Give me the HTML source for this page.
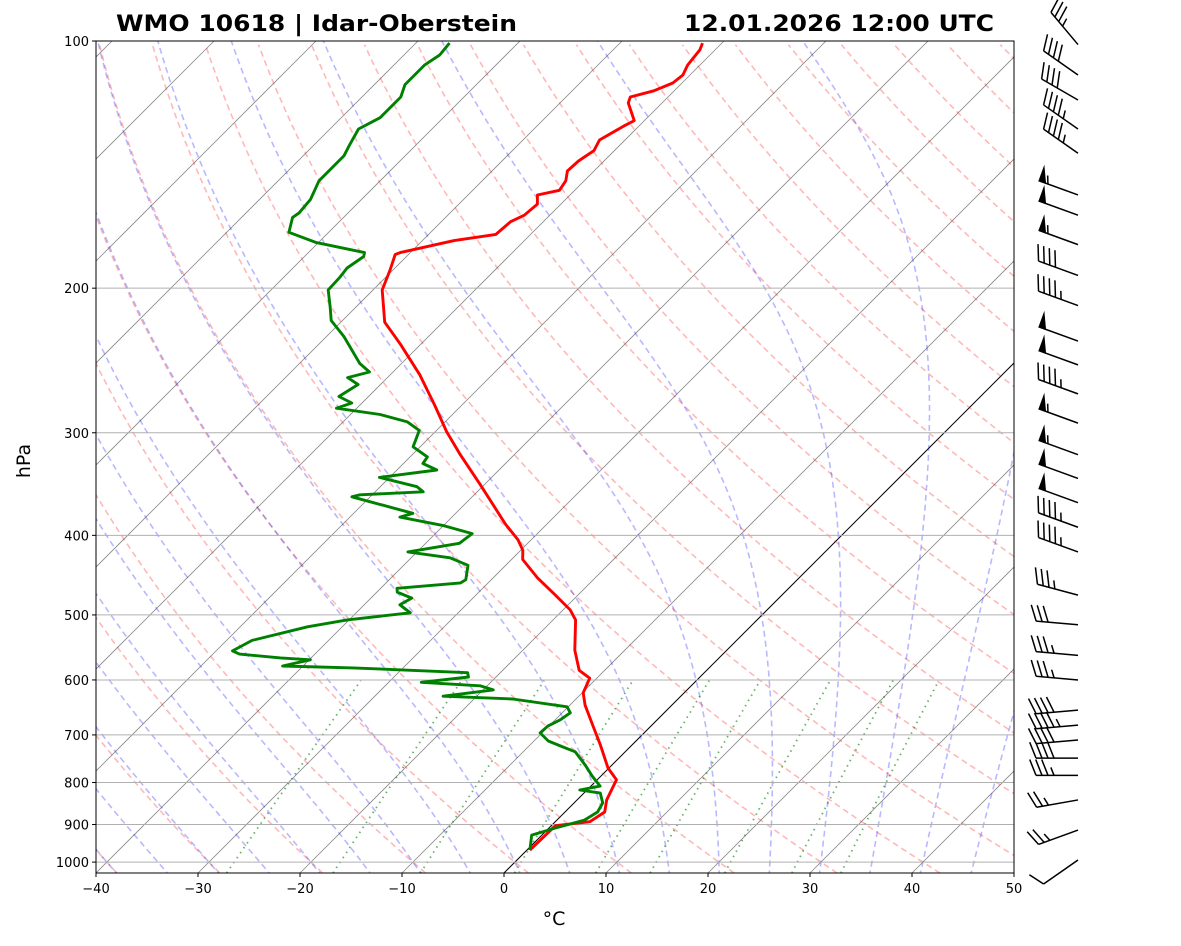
<!DOCTYPE html>
<html><head><meta charset="utf-8"><style>
html,body{margin:0;padding:0;background:#fff;}
svg text{font-family:"DejaVu Sans","Liberation Sans",sans-serif;}
</style></head><body>
<svg id="chart" width="1181" height="941" viewBox="0 0 1181 941" xmlns="http://www.w3.org/2000/svg">
<defs><clipPath id="clip"><rect x="96" y="41" width="918" height="832"/></clipPath></defs>
<rect width="1181" height="941" fill="#fff"/>
<text x="116" y="31" font-size="22.5" font-weight="bold" textLength="401" lengthAdjust="spacingAndGlyphs">WMO 10618 | Idar-Oberstein</text>
<text x="684" y="31" font-size="22.5" font-weight="bold" textLength="310" lengthAdjust="spacingAndGlyphs">12.01.2026 12:00 UTC</text>
<g id="bg" clip-path="url(#clip)"></g>
<g id="grid"></g>
<g id="prof" clip-path="url(#clip)"></g>
<rect x="96" y="41" width="918" height="832" fill="none" stroke="#000" stroke-width="1"/>
<g id="axes"></g>
<g id="barbs"></g>
<text x="0" y="0" font-size="19" text-anchor="middle" transform="translate(30,461) rotate(-90)">hPa</text>
<text x="554" y="925" font-size="19" text-anchor="middle">°C</text>
</svg>
<script>
// ---- data ----
const pLevels = [100,200,300,400,500,600,700,800,900,1000];
const tTicks = [-40,-30,-20,-10,0,10,20,30,40,50];
const tempP = [967,903,893,869,840,794,768,720,681,644,622,597,584,552,507,493,473,451,428,417,405,388,347,319,299,278,255,234,220,201,190,182,181,175,172,166,163,158,154,152,148,144,140,136,132,127,125,119,117,115,112.5,110,107,102.5,100.6];
const tempT = [0.3,0.4,3.4,3.9,2.9,1.9,-0.1,-3.1,-5.8,-8.5,-9.9,-10.7,-12.5,-14.9,-17.8,-19.3,-22.2,-25.6,-28.9,-29.8,-31.3,-34.0,-40.4,-45.3,-48.9,-52.6,-57.1,-62.0,-65.7,-69.1,-70.3,-71.3,-71.0,-66.9,-63.4,-63.2,-62.5,-62.3,-63.2,-61.5,-61.8,-62.6,-62.5,-62.0,-62.5,-61.5,-61.0,-63.3,-63.7,-62.0,-60.9,-60.7,-61.2,-61.5,-61.9];
const dewP = [967,927,909,889,869,847,824,817,808,785,762,734,724,712,696,683,671,658,647,633,628,617,610,604,595,588,580,577,567,564,558,553,537,517,507,497,486,477,469,464,457,453,435,426,419,409,398,389,380,376,359,357,354,349,340,333,327,321,312,298,291,285,280,276,271,262,257,253,247,229,219,211,201,194,189,183,181,176,171,164,162,156,148,138,134,128,124,117,113,107,104,100.6];
const dewT = [0.3,-1.0,0.6,2.7,3.2,2.8,1.6,-0.7,0.9,-0.9,-2.6,-4.9,-6.6,-8.6,-10.2,-10.1,-9.5,-9.2,-10.1,-16.2,-23.3,-19.0,-20.7,-26.8,-22.7,-23.2,-34.9,-42.0,-39.9,-43.0,-47.4,-48.4,-47.5,-43.4,-40.2,-34.7,-36.5,-36.0,-38.0,-38.4,-32.7,-32.5,-33.7,-36.2,-40.9,-36.7,-36.4,-40.1,-45.1,-44.2,-51.8,-51.2,-45.3,-46.4,-51.0,-46.1,-48.1,-48.3,-50.7,-51.7,-53.7,-57.1,-62.0,-61.0,-62.9,-62.2,-63.9,-62.3,-64.1,-68.3,-71.1,-72.5,-74.4,-74.5,-74.7,-74.2,-74.5,-80.2,-83.9,-85.0,-84.8,-85.0,-86.0,-86.0,-86.5,-87.2,-86.2,-86.2,-87.0,-87.0,-86.5,-86.7];
const windP = [101,110,118,128,137,154,163,177,193,210,232,248,269,292,319,341,365,391,419,473,514,560,600,653,681,710,747,784,840,914,994];
const windDir = [320,305,300,305,305,290,290,290,290,290,290,290,290,290,290,290,290,290,290,285,275,275,275,265,265,265,270,270,260,250,235];
const windSpd = [35,40,40,45,45,55,50,55,40,45,50,50,45,55,55,50,50,45,45,35,30,35,35,40,45,40,40,35,25,25,10];
const mixRatios = [0.0004,0.001,0.002,0.004,0.007,0.01,0.016,0.024,0.032];

// ---- axis functions ----
const NS='http://www.w3.org/2000/svg';
const TOP=41,BOT=873,LEFT=96,RIGHT=1014,PXLN=356.6,PXC=10.2,X0=504;
function yOf(p){return TOP+PXLN*Math.log(p/100);}
function xOf(t,p){return X0+PXC*t+(BOT-yOf(p));}
const PBOT=100*Math.exp((BOT-TOP)/PXLN);
function mk(tag,attrs,parent){const e=document.createElementNS(NS,tag);for(const k in attrs)e.setAttribute(k,attrs[k]);parent.appendChild(e);return e;}
function pathOf(pts){return pts.map((q,i)=>(i?'L':'M')+q[0].toFixed(1)+' '+q[1].toFixed(1)).join('');}
const bg=document.getElementById('bg'),grid=document.getElementById('grid'),prof=document.getElementById('prof'),axes=document.getElementById('axes'),barbs=document.getElementById('barbs');

for(let t=-130;t<=50;t+=10){
  const l=mk('line',{x1:xOf(t,PBOT),y1:BOT,x2:xOf(t,100),y2:TOP,stroke:t===0?'#000':'#888','stroke-width':t===0?1:0.8},bg);
  
  
}
for(let t0=-40;t0<=250;t0+=10){
  const pts=[];for(let p=PBOT;p>=99;p-=5){const T=(t0+273.15)*Math.pow(p/1000,0.2857)-273.15;pts.push([xOf(T,p),yOf(p)]);}
  const e=mk('path',{d:pathOf(pts),fill:'none',stroke:'rgba(255,0,0,0.28)','stroke-width':1.6,'stroke-dasharray':'6,4'},bg);
  
  
}
function es(tc){return 6.112*Math.exp(17.67*tc/(tc+243.5));}
function dTdlnp(T,p){const tc=T-273.15,e=es(tc),rs=0.622*e/(p-e);const Rd=287.04,Cp=1005.7,Lv=2.501e6;return (Rd*T+Lv*rs)/(Cp+Lv*Lv*rs*0.622/(Rd*T*T));}
function moist(t0){
  const up=[],dn=[];let T=t0+273.15,lp=Math.log(1000);const h=0.01;
  up.push([1000,T]);
  while(Math.exp(lp)>99){const p=Math.exp(lp);const k1=dTdlnp(T,p),k2=dTdlnp(T-h*k1/2,Math.exp(lp-h/2)),k3=dTdlnp(T-h*k2/2,Math.exp(lp-h/2)),k4=dTdlnp(T-h*k3,Math.exp(lp-h));T-=h*(k1+2*k2+2*k3+k4)/6;lp-=h;up.push([Math.exp(lp),T]);}
  T=t0+273.15;lp=Math.log(1000);
  while(Math.exp(lp)<PBOT+5){T+=h*dTdlnp(T,Math.exp(lp));lp+=h;dn.unshift([Math.exp(lp),T]);}
  return dn.concat(up).map(q=>[xOf(q[1]-273.15,q[0]),yOf(q[0])]);
}
for(let t0=-40;t0<=45;t0+=5){
  const e=mk('path',{d:pathOf(moist(t0)),fill:'none',stroke:'rgba(0,0,255,0.28)','stroke-width':1.6,'stroke-dasharray':'6,4'},bg);
  
  
}
for(const w of mixRatios){
  const pts=[];for(let p=PBOT;p>=600;p-=5){const e=w*p/(0.622+w),L=Math.log(e/6.112),Td=243.5*L/(17.67-L);pts.push([xOf(Td,p),yOf(p)]);}
  const e=mk('path',{d:pathOf(pts),fill:'none',stroke:'rgba(0,128,0,0.6)','stroke-width':1.8,'stroke-dasharray':'1.5,4.5'},bg);
  
  
}
for(const p of pLevels){
  const y=yOf(p);
  const g=mk('line',{x1:LEFT,x2:RIGHT,y1:y,y2:y,stroke:'#b0b0b0','stroke-width':1},grid);
  
  
  const tk=mk('line',{x1:LEFT-4,x2:LEFT,y1:y,y2:y,stroke:'#000','stroke-width':1},axes);
  
  
  const tx=mk('text',{x:LEFT-7,y:y+5,'font-size':13,'text-anchor':'end'},axes);tx.textContent=p;
  
  
}
for(const t of tTicks){
  const x=X0+PXC*t;
  const tk=mk('line',{x1:x,x2:x,y1:BOT,y2:BOT+4,stroke:'#000','stroke-width':1},axes);
  
  
  const tx=mk('text',{x:x,y:BOT+20,'font-size':13,'text-anchor':'middle'},axes);tx.textContent=(t<0?'\u2212'+(-t):t);
  
  
}
const tl=mk('path',{d:pathOf(tempP.map((p,i)=>[xOf(tempT[i],p),yOf(p)])),fill:'none',stroke:'#f00','stroke-width':2.9,'stroke-linejoin':'round'},prof);


const dl=mk('path',{d:pathOf(dewP.map((p,i)=>[xOf(dewT[i],p),yOf(p)])),fill:'none',stroke:'#008000','stroke-width':2.9,'stroke-linejoin':'round'},prof);


const BX=1078,L=42;
windP.forEach((p,i)=>{
  const by=yOf(p),d=windDir[i]*Math.PI/180;
  const sx=Math.sin(d),sy=-Math.cos(d);
  let px=-sy,py=sx; if(py>0){px=-px;py=-py;}
  const tx=BX+L*sx,ty=by+L*sy;
  const g=mk('g',{},barbs);
  
  
  mk('line',{x1:BX,y1:by,x2:tx,y2:ty,stroke:'#000','stroke-width':1.5},g);
  let s=windSpd[i],pos=0;const bl=17,sp=6;
  let flags=Math.floor(s/50);s-=flags*50;let full=Math.floor(s/10);s-=full*10;let half=s>=5?1:0;
  const bx=(k)=>tx-sx*k,byy=(k)=>ty-sy*k;
  const vx=px*0.93+sx*0.37,vy=py*0.93+sy*0.37;
  for(let f=0;f<flags;f++){
    mk('polygon',{points:`${bx(pos)},${byy(pos)} ${bx(pos)+px*bl},${byy(pos)+py*bl} ${bx(pos+8)},${byy(pos+8)}`,fill:'#000'},g);pos+=10;
  }
  for(let f=0;f<full;f++){mk('line',{x1:bx(pos),y1:byy(pos),x2:bx(pos)+vx*bl,y2:byy(pos)+vy*bl,stroke:'#000','stroke-width':1.5},g);pos+=sp;}
  if(half){if(pos===0)pos=sp;mk('line',{x1:bx(pos),y1:byy(pos),x2:bx(pos)+vx*bl/2,y2:byy(pos)+vy*bl/2,stroke:'#000','stroke-width':1.5},g);}
});
</script>
</body></html>
